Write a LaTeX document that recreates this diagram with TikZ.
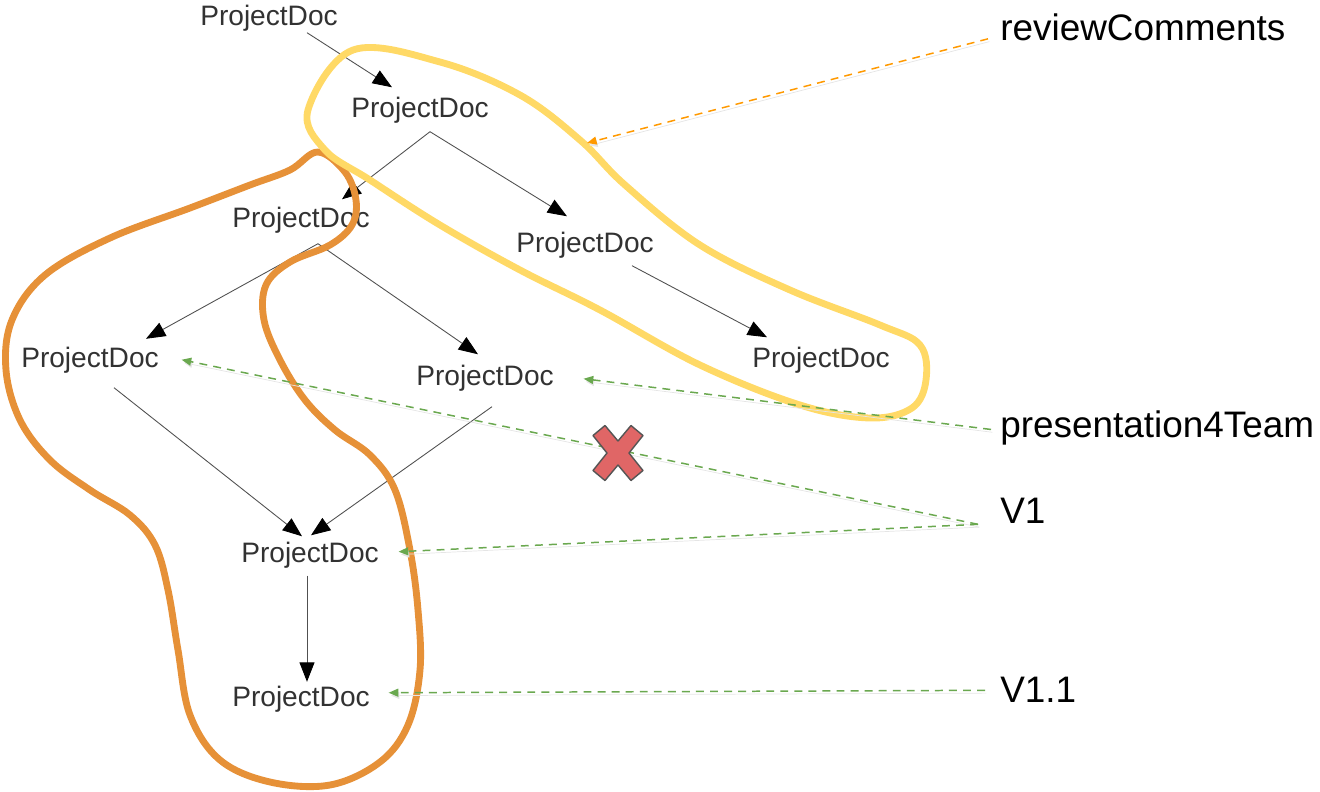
\documentclass[tikz,border=0pt]{standalone}
\usepackage{fontspec}
\setmainfont{Liberation Sans}
\usetikzlibrary{arrows.meta,calc}
\definecolor{docgray}{RGB}{50,50,50}
\definecolor{edgegray}{RGB}{80,80,80}
\definecolor{vgreen}{RGB}{106,168,79}
\definecolor{rcorange}{RGB}{255,153,0}
\definecolor{blobyellow}{RGB}{255,217,102}
\definecolor{bloborange}{RGB}{230,145,56}
\definecolor{xred}{RGB}{224,102,102}
\definecolor{xgray}{RGB}{85,85,85}

\begin{document}
\begin{tikzpicture}[x=0.02cm, y=-0.02cm,
  doc/.style={font=\fontsize{16}{19}\selectfont, text=docgray, inner sep=2pt, anchor=base},
  lbl/.style={font=\fontsize{21}{25}\selectfont, inner sep=0pt, anchor=base west},
  edge/.style={draw=edgegray, line width=0.5pt, -{Triangle[length=11pt,width=8.5pt,color=black]}},
  ptr/.style={dash pattern=on 4.5pt off 3.5pt, line width=0.85pt, -{Triangle[length=5.5pt,width=4.5pt]},
    preaction={draw=black!10, transform canvas={shift={(0.8pt,-1.6pt)}}}},
  blob/.style={line width=3.9pt, line join=round}]

\useasboundingbox (0,0) rectangle (1320,792);

\node[doc] (top) at (269,25) {ProjectDoc};
\node[doc] (n1) at (420,117) {ProjectDoc};
\node[doc] (n2) at (301,227) {ProjectDoc};
\node[doc] (n3) at (585,252) {ProjectDoc};
\node[doc] (n4) at (821,367) {ProjectDoc};
\node[doc] (n5) at (90,367) {ProjectDoc};
\node[doc] (n6) at (485,385) {ProjectDoc};
\node[doc] (n7) at (310,562) {ProjectDoc};
\node[doc] (n8) at (301,706) {ProjectDoc};

\draw[edge] ($(top.south)+(38,-2)$) -- ($(n1.north)+(-28,-5.5)$);
\draw[edge] ($(n1.south)+(10,5)$) -- ($(n2.north)+(41,-3.5)$);
\draw[edge] ($(n1.south)+(10,5)$) -- ($(n3.north)+(-18,-11.5)$);
\draw[edge] ($(n2.south)+(17,7)$) -- ($(n5.north)+(56,-4)$);
\draw[edge] ($(n2.south)+(17,7)$) -- ($(n6.north)+(-7,-6.5)$);
\draw[edge] ($(n3.south)+(47,4)$) -- ($(n4.north)+(-54,-5.5)$);
\draw[edge] ($(n5.south)+(24,11)$) -- ($(n7.north)+(-8,-1.5)$);
\draw[edge] ($(n6.south)+(7,12)$) -- ($(n7.north)+(1,-2.5)$);
\draw[edge] ($(n7.south)+(-3,4)$) -- ($(n8.north)+(6,0)$);

% version group
\draw[blob, bloborange] plot[smooth cycle, tension=0.6] coordinates {
  (318,152) (290,170) (250,185) (190,208) (110,238) (45,275) (12,320) (6,370)
  (20,420) (50,460) (90,490) (130,515) (155,545) (168,590) (178,650) (190,715)
  (220,760) (270,782) (330,785) (380,762) (408,725) (420,670) (418,610) (410,550)
  (395,490) (370,455) (335,430) (305,400) (280,360) (264,320) (266,285) (290,262)
  (330,245) (352,225) (356,200) (345,172)};

% review group
\draw[blob, blobyellow] plot[smooth cycle, tension=0.6] coordinates {
  (353,50) (440,62) (520,95) (580,140) (625,185) (700,245) (790,290) (880,325)
  (920,345) (926,380) (912,408) (870,418) (800,405) (700,365) (600,310) (520,270)
  (440,225) (370,180) (325,150) (308,110)};

\node[lbl] (rc) at (1000,40) {reviewComments};
\node[lbl] (p4t) at (1000,437) {presentation4Team};
\node[lbl] (v1) at (1000,523) {V1};
\node[lbl] (v11) at (1000,702) {V1.1};

\coordinate (yb) at (587,143);

\draw[ptr, rcorange] ($(rc.west)+(-12,12)$) -- (yb);
\draw[ptr, vgreen] ($(p4t.west)+(-9,2)$) -- ($(n6.east)+(26,1)$);
\draw[ptr, vgreen] ($(v1.west)+(-22,14)$) -- ($(n5.east)+(19,0)$);
\draw[ptr, vgreen] ($(v1.west)+(-22,14)$) -- ($(n7.east)+(16,-3)$);
\draw[ptr, vgreen] ($(v11.west)+(-15,1)$) -- ($(n8.east)+(15,-6)$);

\begin{scope}[shift={(618,453)}]
\filldraw[fill=xred, draw=xgray, line width=0.8pt, line join=round]
  (-25,-17.5) -- (-13,-27.5) -- (0,-12) -- (13,-27.5) -- (25,-17.5) -- (11,0)
  -- (25,17.5) -- (13,27.5) -- (0,12) -- (-13,27.5) -- (-25,17.5) -- (-11,0) -- cycle;
\end{scope}

\end{tikzpicture}
\end{document}
